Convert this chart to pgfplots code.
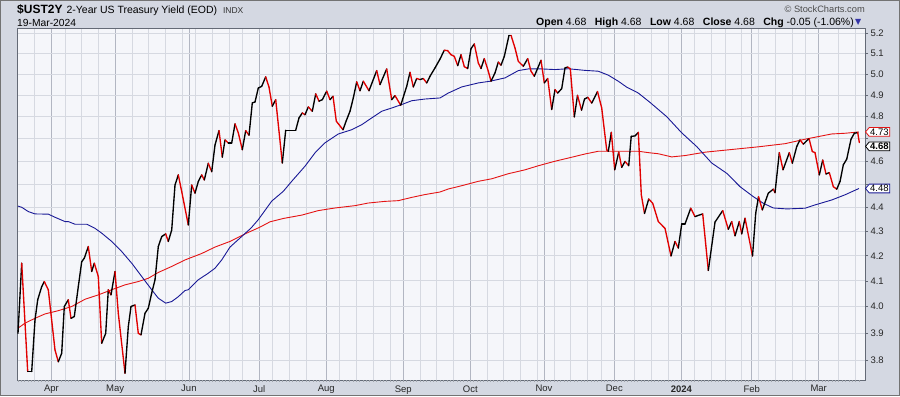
\documentclass[border=0pt]{standalone}
\usepackage{pgfplots}
\pgfplotsset{compat=1.18}
\usepackage{pgfplotstable}
\usepackage{fontspec}
\setmainfont{Liberation Sans}
\newfontfamily\dejavu{DejaVu Sans}
\usetikzlibrary{shapes.symbols}

\definecolor{bgpanel}{RGB}{212,216,226}
\definecolor{plotbg}{RGB}{245,246,250}
\definecolor{gridminor}{RGB}{214,217,225}
\definecolor{gridmajor}{RGB}{178,182,194}
\definecolor{framec}{RGB}{100,106,118}
\definecolor{pricered}{RGB}{225,0,0}
\definecolor{mablue}{RGB}{25,25,150}
\definecolor{mared}{RGB}{228,20,20}

% price: x = horizontal position (trading-day scale), y = yield, c = 1 if next close is lower
\pgfplotstableread{
x y c
18 3.899 0
21.7 4.170 1
27.7 3.758 0
31.7 3.758 0
35 3.949 0
37.7 4.026 0
41.7 4.077 0
44.3 4.097 1
48.3 4.065 1
55 3.837 1
58.3 3.794 0
61.7 3.825 0
64.3 4.000 0
68.3 4.026 1
71 3.956 0
74.3 3.962 0
78.3 4.077 0
81.7 4.176 0
84.3 4.190 0
88.3 4.237 1
91.7 4.137 0
94.3 4.170 1
98.3 4.117 1
101.7 3.862 0
105.7 3.899 0
108.3 4.065 1
111 4.045 0
115 4.137 1
118.3 3.975 1
125 3.752 0
128.3 3.924 0
131 4.000 0
135 4.006 1
138.3 3.899 1
141 3.893 0
145 3.975 0
148.3 3.994 0
151.7 4.052 0
155 4.104 0
158.3 4.237 0
161.7 4.278 0
165.7 4.289 1
168.3 4.258 0
171.7 4.305 0
175 4.495 0
178.3 4.539 1
181.7 4.467 1
188.3 4.326 0
191.7 4.495 1
195 4.460 0
198.3 4.510 0
201.7 4.539 1
204.3 4.517 0
208.3 4.590 1
211.7 4.553 0
215 4.671 0
219 4.736 1
222.3 4.617 0
225 4.694 1
228.3 4.680 0
231.7 4.680 0
235 4.767 1
238.3 4.726 1
242.3 4.650 0
245.7 4.736 1
249 4.715 0
252.3 4.864 0
255 4.868 0
258.3 4.934 0
261.7 4.942 0
265.7 4.987 1
269 4.938 1
272.3 4.848 0
275.7 4.879 1
282.3 4.591 0
285.7 4.738 0
295.7 4.738 0
299 4.794 0
302.3 4.817 1
305 4.809 0
308.3 4.845 1
312.3 4.825 0
315.7 4.906 1
319 4.872 0
322.3 4.879 0
326.7 4.919 1
330 4.879 0
333 4.895 1
336.3 4.779 1
343 4.740 0
346.3 4.782 0
350 4.825 0
353.3 4.887 0
356.7 4.963 1
360 4.921 0
363.3 4.966 1
369 4.921 0
376.7 5.017 1
380 4.950 0
386.7 5.025 1
391.7 4.879 0
395 4.898 1
400.7 4.853 0
406.7 4.942 0
410 5.009 1
413.3 4.939 0
416.7 4.979 1
420 4.974 0
423.3 4.979 1
426.7 4.958 0
430 4.990 0
435 5.030 0
440 5.073 0
444.3 5.116 1
447.7 5.114 1
451 5.094 1
454.3 5.086 1
457.7 5.041 0
461 5.094 1
464.3 5.036 1
467.7 5.027 0
471 5.124 0
474.3 5.147 1
478.3 5.054 1
481 5.027 0
484.3 5.075 1
488.3 5.014 1
491 4.966 0
495 5.006 0
498.3 5.058 1
501 5.043 0
504.3 5.086 0
509 5.190 0
511 5.190 1
515 5.127 1
518.3 5.062 1
523.3 5.038 0
527.7 5.075 1
531 5.014 1
534.3 4.990 0
541 5.067 1
544.3 4.958 0
547.7 4.979 1
551.7 4.833 0
555 4.926 1
557.7 4.910 0
561.7 4.931 0
565 5.030 0
567.7 5.034 1
570.3 5.026 1
574.3 4.799 0
577.5 4.899 1
581.5 4.830 0
584.5 4.882 0
587.8 4.890 1
591.7 4.863 0
597.5 4.917 1
601.7 4.840 1
606.7 4.649 1
608.3 4.643 0
611.3 4.728 1
614.7 4.561 0
618.7 4.639 1
621.7 4.572 0
625 4.598 1
628.7 4.579 0
631.2 4.710 0
635 4.712 0
638.3 4.728 1
641.3 4.453 1
644.5 4.374 0
648.7 4.435 1
652.7 4.417 1
658.3 4.340 1
665 4.312 1
671 4.199 0
675 4.258 1
678.3 4.231 0
681.7 4.330 0
685 4.330 0
690.7 4.396 1
695 4.361 0
702.7 4.372 1
708.3 4.141 0
715 4.338 0
722.7 4.386 1
728.3 4.308 0
731.7 4.340 1
735 4.281 0
739.3 4.340 1
741.7 4.289 0
745 4.354 1
752.5 4.199 0
755.7 4.375 0
758.5 4.445 1
762.3 4.389 0
768.3 4.460 0
773.3 4.477 1
775 4.462 0
779.3 4.637 1
783 4.561 0
789.3 4.637 1
792.3 4.590 0
796.7 4.664 0
800 4.694 1
803.3 4.675 0
809 4.700 1
812.3 4.642 1
815 4.637 1
819.3 4.539 0
822.7 4.604 1
826 4.543 0
829.3 4.549 1
833.3 4.488 1
836.7 4.477 0
840 4.510 0
843.3 4.583 0
846.7 4.608 0
851 4.697 0
854.3 4.724 0
857.7 4.727 1
859.3 4.682 1
}\pricetable

% 50-day moving average
\pgfplotstableread{
x y
18 4.405
21.7 4.400
28.3 4.382
35 4.372
48.3 4.371
55 4.358
65 4.340
68.3 4.340
75 4.329
86.7 4.329
95 4.312
101.7 4.292
111.7 4.258
121.7 4.217
131.7 4.170
141.7 4.117
151.7 4.065
158.3 4.032
165.7 4.013
171.7 4.019
178.3 4.038
185 4.062
188.3 4.065
198.3 4.104
208.3 4.130
215 4.150
221.7 4.183
230 4.235
251 4.313
258.3 4.348
271.7 4.426
283.3 4.468
291.7 4.511
305 4.577
315 4.636
325 4.681
338.3 4.721
351.7 4.740
361.7 4.763
371.7 4.794
381.7 4.825
391.7 4.840
401.7 4.856
411.7 4.874
425 4.882
440 4.887
448.3 4.910
461.7 4.939
478.3 4.958
490 4.966
505 4.982
518.3 5.017
528.3 5.025
541.7 5.025
555 5.022
568.3 5.026
585 5.018
598.3 5.014
608.3 4.995
618.3 4.966
626.7 4.938
638.3 4.910
650 4.866
666.7 4.800
681.7 4.726
696.7 4.664
711.7 4.591
726.7 4.546
740 4.488
753.3 4.445
763.3 4.417
773.3 4.397
786.7 4.393
805 4.396
815 4.410
831.7 4.431
845 4.453
858.9 4.480
}\maFifty

% 200-day moving average
\pgfplotstableread{
x y
18 3.918
25 3.937
35 3.956
45 3.972
58.3 3.985
71.7 4.000
85 4.028
98.3 4.045
111.7 4.065
125 4.084
138.3 4.097
148.3 4.110
158.3 4.133
171.7 4.157
185 4.183
201.7 4.209
215 4.235
230 4.258
245 4.289
260 4.317
270 4.339
283.3 4.353
301.7 4.367
318.3 4.386
335 4.397
355 4.407
368.3 4.418
385 4.425
398.3 4.428
411.7 4.442
425 4.454
440 4.465
448.3 4.478
461.7 4.492
478.3 4.511
491.7 4.522
508.3 4.544
525 4.561
538.3 4.579
555 4.599
568.3 4.613
585 4.631
598.3 4.643
621.7 4.643
638.3 4.643
650 4.636
658.3 4.632
671.7 4.618
685 4.624
705 4.639
731.7 4.651
758.3 4.663
785 4.677
805 4.697
818.3 4.709
831.7 4.721
845 4.724
858.9 4.730
}\maTwoHundred

\begin{document}
\begin{tikzpicture}[x=1bp,y=1bp]
\fill[bgpanel] (0,0) rectangle (900,396);
\path[use as bounding box] (0,0) rectangle (900,396);
\draw[black!55, line width=1bp] (0.5,0.5) rectangle (899.5,395.5);

\begin{axis}[
  at={(17bp,16bp)}, anchor=south west,
  scale only axis, width=848bp, height=352bp,
  xmin=17, xmax=865,
  ymode=log, ymin=3.728, ymax=5.2265,
  clip mode=individual,
  axis background/.style={fill=plotbg},
  axis line style={framec, line width=0.8bp},
  /pgf/number format/assume math mode=true,
  xtick={51.5,115.2,188.9,259.2,326.2,403.3,470.3,544,614.3,681.3,751.7,818.7},
  xticklabels={Apr,May,Jun,Jul,Aug,Sep,Oct,Nov,Dec,\textbf{2024},Feb,Mar},
  minor xtick={34.75,64.9,81.65,98.4,131.9,148.65,165.4,182.15,195.55,212.3,229.05,242.45,272.6,289.35,306.1,339.6,356.35,373.1,389.85,420,436.75,453.5,487,503.75,520.5,537.25,554,570.75,587.5,600.9,634.4,651.15,667.9,694.7,711.45,724.85,741.6,758.35,775.1,791.85,805.25,838.75,855.5},
  ytick={3.8,3.9,4.0,4.1,4.2,4.3,4.4,4.5,4.6,4.7,4.8,4.9,5.0,5.1,5.2},
  yticklabels={3.8,3.9,4.0,4.1,4.2,4.3,4.4,,4.6,,4.8,4.9,5.0,5.1,5.2},
  xtick pos=bottom, ytick pos=right,
  yticklabel pos=right,
  tick align=outside,
  major tick length=3bp, minor tick length=0bp,
  xtick style={draw=none},
  ytick style={framec, line width=0.6bp},
  xmajorgrids, xminorgrids, ymajorgrids,
  major x grid style={gridmajor, line width=0.7bp},
  minor x grid style={gridminor, line width=0.7bp},
  major y grid style={gridminor, line width=0.7bp},
  ticklabel style={font=\fontsize{9.5bp}{11bp}\selectfont, text=black!85},
  xticklabel style={yshift=1bp},
  yticklabel style={xshift=-1bp},
  extra x ticks={18,21.35,...,859},
  extra x tick labels={},
  extra x tick style={grid=none, xtick style={draw=framec!60, line width=0.6bp}, major tick length=2bp},
  colormap={updown}{color(0)=(black) color(1)=(pricered)},
  point meta min=0, point meta max=1,
]
\addplot[mared, line width=0.9bp] table[x=x,y=y] {\maTwoHundred};
\addplot[mablue, line width=0.9bp] table[x=x,y=y] {\maFifty};
\addplot[mesh, shader=flat corner, point meta=explicit, line width=1.35bp, line cap=round, line join=round] table[x=x,y=y,meta=c] {\pricetable};

\node[signal, signal to=west, signal pointer angle=100, draw=mared, fill=white, line width=0.8bp, inner sep=1bp, anchor=west, font=\fontsize{9.5bp}{10bp}\selectfont] at (axis cs:865,4.73) {4.73};
\node[signal, signal to=west, signal pointer angle=100, draw=black, fill=white, line width=0.8bp, inner sep=1bp, anchor=west, font=\fontsize{9.5bp}{10bp}\selectfont\bfseries] at (axis cs:865,4.665) {4.68};
\node[signal, signal to=west, signal pointer angle=100, draw=mablue, fill=white, line width=0.8bp, inner sep=1bp, anchor=west, font=\fontsize{9.5bp}{10bp}\selectfont] at (axis cs:865,4.48) {4.48};
\end{axis}

\node[anchor=base west, inner sep=0] at (17,382.5) {{\fontsize{12bp}{14bp}\selectfont\bfseries\$UST2Y}\hspace{4bp}{\fontsize{10.5bp}{12bp}\selectfont 2-Year US Treasury Yield (EOD)}\hspace{6bp}{\fontsize{8.5bp}{10bp}\selectfont\color{black!80}INDX}};
\node[anchor=base west, inner sep=0] at (17,370) {\fontsize{10.3bp}{12bp}\selectfont 19-Mar-2024};
\node[anchor=base east, inner sep=0, text=black!70] at (865,383.5) {\fontsize{9.3bp}{11bp}\selectfont\textcopyright\ StockCharts.com};
\node[anchor=base east, inner sep=0] at (854,370.5) {\fontsize{10.5bp}{12bp}\selectfont\textbf{Open} 4.68\hspace{8.5bp}\textbf{High} 4.68\hspace{8.5bp}\textbf{Low} 4.68\hspace{8.5bp}\textbf{Close} 4.68\hspace{8.5bp}\textbf{Chg} -0.05 (-1.06\%)};
\node[anchor=base west, inner sep=0, text=black!25!blue!60!gray] at (855,371.5) {\fontsize{8bp}{9bp}\selectfont\dejavu ▼};
\end{tikzpicture}
\end{document}
